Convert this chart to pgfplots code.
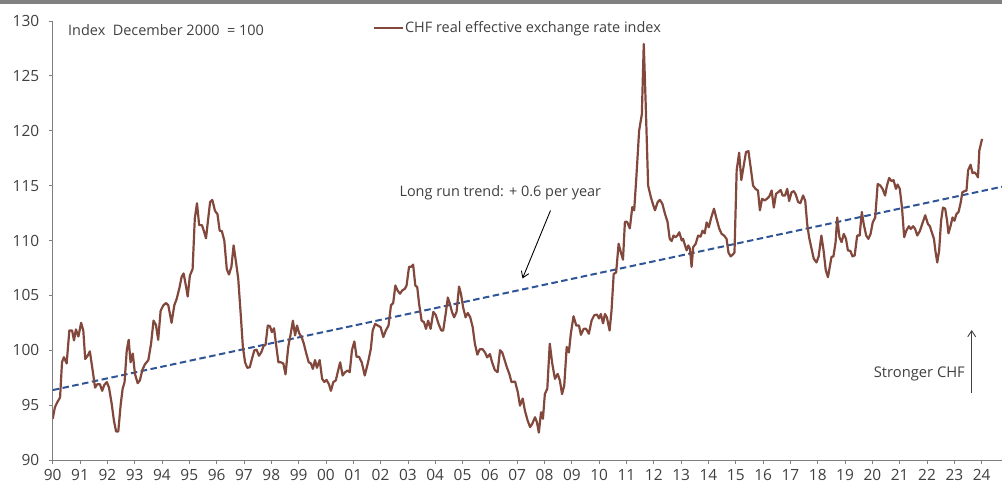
\documentclass[border=0pt]{standalone}
\usepackage{fontspec}
\setmainfont{Open Sans}
\usepackage{pgfplots}
\pgfplotsset{compat=1.18}
\usepackage{pgfplotstable}
\usetikzlibrary{arrows.meta}
\definecolor{chfbrown}{RGB}{130,72,60}
\definecolor{trendblue}{RGB}{47,85,151}
\definecolor{txtgray}{RGB}{64,64,64}
\definecolor{axgray}{RGB}{128,128,128}

\pgfplotstableread{
year value
1990.00 93.75
1990.08 94.8
1990.17 95.27
1990.27 95.7
1990.34 98.9
1990.41 99.37
1990.51 98.8
1990.61 101.8
1990.71 101.8
1990.78 100.9
1990.85 101.9
1990.94 101.25
1991.04 102.5
1991.12 101.8
1991.19 99.2
1991.28 99.5
1991.36 99.9
1991.46 98.2
1991.55 96.6
1991.63 96.9
1991.73 96.9
1991.81 96.3
1991.89 96.85
1991.98 97.1
1992.06 96.6
1992.16 95.1
1992.24 93.6
1992.32 92.6
1992.40 92.6
1992.49 95.1
1992.56 96.5
1992.63 97.1
1992.71 100.0
1992.78 100.95
1992.85 98.9
1992.93 99.7
1993.01 97.85
1993.11 97.0
1993.19 97.25
1993.28 98.2
1993.37 98.7
1993.50 99.1
1993.60 100.6
1993.69 102.7
1993.78 102.3
1993.86 100.95
1993.95 103.6
1994.05 104.1
1994.15 104.3
1994.23 104.1
1994.35 102.5
1994.45 104.1
1994.54 104.7
1994.63 105.6
1994.72 106.7
1994.79 107.0
1994.88 105.8
1994.94 104.9
1995.02 106.8
1995.12 107.4
1995.20 112.0
1995.28 113.4
1995.36 111.4
1995.46 111.4
1995.54 110.8
1995.61 110.2
1995.70 112.2
1995.76 113.5
1995.84 113.7
1995.94 112.7
1996.03 112.4
1996.11 110.9
1996.19 110.85
1996.28 110.0
1996.37 107.4
1996.45 106.9
1996.54 107.6
1996.62 109.55
1996.71 108.0
1996.79 106.5
1996.88 103.3
1996.96 100.3
1997.04 98.9
1997.12 98.4
1997.21 98.45
1997.29 99.2
1997.38 100.0
1997.46 100.05
1997.55 99.5
1997.63 99.8
1997.72 100.4
1997.79 100.5
1997.87 102.25
1997.95 102.2
1998.02 101.65
1998.10 102.0
1998.17 100.6
1998.26 98.9
1998.35 98.9
1998.44 98.8
1998.52 97.8
1998.62 100.3
1998.71 101.5
1998.79 102.7
1998.87 101.35
1998.94 102.25
1999.02 101.55
1999.11 101.2
1999.19 100.6
1999.28 99.7
1999.37 98.9
1999.45 98.8
1999.52 98.3
1999.60 99.1
1999.67 98.4
1999.77 99.1
1999.86 97.4
1999.94 97.1
2000.02 97.3
2000.11 96.9
2000.18 96.3
2000.27 97.1
2000.36 97.25
2000.43 98.0
2000.52 98.9
2000.61 97.7
2000.70 98.0
2000.79 98.15
2000.87 98.0
2000.95 100.0
2001.04 100.8
2001.12 99.4
2001.21 99.4
2001.31 98.9
2001.42 97.7
2001.54 98.9
2001.64 100.1
2001.71 101.8
2001.80 102.4
2001.90 102.25
2002.00 102.1
2002.10 101.2
2002.19 101.8
2002.29 102.25
2002.38 104.1
2002.46 104.3
2002.54 105.9
2002.62 105.45
2002.71 105.15
2002.79 105.45
2002.89 105.6
2002.95 105.9
2003.04 107.6
2003.12 107.6
2003.19 107.8
2003.27 105.9
2003.34 105.75
2003.41 104.2
2003.50 102.7
2003.59 102.55
2003.66 101.95
2003.74 102.7
2003.83 101.95
2003.93 103.5
2004.02 103.2
2004.12 102.4
2004.22 101.8
2004.29 101.8
2004.38 103.3
2004.46 104.8
2004.54 104.2
2004.61 103.5
2004.69 103.0
2004.78 103.5
2004.87 105.8
2004.94 105.15
2005.02 103.9
2005.11 103.0
2005.19 103.4
2005.28 103.0
2005.37 102.1
2005.45 100.6
2005.54 99.6
2005.63 100.1
2005.73 100.1
2005.82 99.8
2005.90 99.35
2006.00 99.65
2006.08 98.9
2006.18 98.2
2006.28 98.0
2006.37 100.0
2006.45 99.8
2006.54 99.1
2006.62 98.45
2006.71 97.85
2006.79 97.1
2006.92 97.15
2007.02 96.2
2007.10 94.95
2007.20 95.6
2007.28 94.5
2007.38 93.6
2007.47 93.0
2007.55 93.3
2007.65 93.9
2007.72 93.45
2007.79 92.5
2007.87 94.35
2007.94 93.75
2008.01 96.0
2008.10 96.5
2008.19 100.6
2008.28 98.8
2008.38 97.4
2008.48 97.85
2008.56 97.25
2008.64 96.0
2008.72 96.8
2008.81 100.3
2008.89 99.8
2008.96 101.5
2009.06 103.1
2009.16 102.25
2009.26 102.25
2009.33 101.4
2009.43 101.95
2009.52 101.95
2009.62 101.5
2009.72 102.7
2009.82 103.2
2009.92 103.25
2009.99 102.9
2010.06 103.3
2010.14 102.45
2010.21 103.3
2010.28 103.0
2010.38 101.8
2010.45 103.6
2010.53 106.95
2010.62 107.1
2010.71 109.7
2010.79 108.95
2010.87 108.25
2010.94 111.7
2011.02 111.7
2011.12 111.1
2011.21 113.05
2011.28 112.75
2011.36 115.8
2011.46 120.0
2011.56 121.5
2011.63 127.9
2011.70 122.5
2011.79 115.0
2011.89 113.95
2011.98 113.2
2012.04 112.75
2012.14 113.5
2012.22 113.7
2012.31 113.35
2012.41 112.4
2012.50 111.7
2012.58 110.15
2012.65 109.95
2012.72 110.45
2012.79 110.3
2012.86 110.45
2012.93 110.75
2013.02 110.0
2013.07 110.15
2013.14 109.55
2013.20 109.1
2013.26 109.55
2013.32 109.25
2013.38 107.6
2013.44 109.4
2013.53 109.7
2013.62 110.45
2013.71 110.35
2013.78 110.9
2013.86 110.65
2013.93 111.65
2014.01 111.2
2014.10 112.1
2014.20 112.9
2014.29 112.0
2014.39 111.1
2014.48 110.6
2014.57 110.45
2014.66 110.15
2014.73 108.9
2014.81 108.55
2014.88 108.7
2014.95 108.9
2015.03 116.4
2015.12 118.0
2015.20 115.5
2015.29 116.85
2015.37 118.05
2015.46 118.15
2015.54 116.7
2015.63 115.0
2015.72 114.7
2015.81 114.55
2015.88 112.75
2015.96 113.8
2016.05 113.65
2016.14 113.8
2016.22 114.0
2016.31 114.55
2016.39 113.0
2016.47 114.25
2016.55 114.4
2016.64 114.6
2016.71 114.1
2016.80 114.1
2016.88 114.7
2016.95 113.6
2017.04 114.4
2017.12 114.5
2017.19 114.2
2017.28 113.5
2017.36 113.4
2017.46 114.1
2017.54 113.6
2017.61 111.5
2017.68 110.3
2017.77 109.25
2017.85 108.35
2017.95 108.0
2018.03 108.55
2018.13 110.45
2018.21 109.1
2018.29 107.3
2018.37 106.65
2018.50 108.5
2018.57 108.55
2018.65 109.85
2018.71 112.1
2018.79 110.3
2018.87 109.85
2018.95 110.6
2019.03 110.15
2019.10 109.1
2019.19 109.05
2019.27 108.55
2019.35 108.65
2019.44 110.45
2019.53 110.45
2019.61 112.6
2019.68 111.5
2019.77 110.45
2019.85 110.15
2019.93 110.6
2020.01 111.65
2020.10 112.1
2020.19 115.15
2020.29 115.0
2020.37 114.7
2020.46 114.1
2020.53 115.0
2020.61 115.7
2020.70 115.4
2020.77 115.5
2020.86 114.7
2020.92 115.1
2021.00 114.7
2021.08 113.0
2021.16 110.3
2021.24 110.9
2021.33 111.3
2021.40 111.05
2021.49 111.3
2021.56 111.05
2021.64 110.45
2021.74 110.9
2021.84 111.65
2021.93 112.3
2022.03 111.5
2022.10 111.3
2022.17 110.75
2022.25 110.15
2022.30 109.1
2022.37 108.0
2022.44 109.1
2022.51 111.8
2022.58 113.0
2022.66 112.9
2022.73 111.8
2022.78 110.65
2022.86 111.35
2022.93 112.1
2023.00 111.8
2023.07 112.4
2023.15 112.6
2023.22 113.35
2023.29 114.4
2023.37 114.5
2023.44 114.55
2023.50 116.4
2023.59 116.9
2023.66 116.15
2023.74 116.2
2023.81 116.0
2023.86 115.75
2023.91 118.2
2024.01 119.25
}\chfdata

\pgfplotstableread{
year value
1990.00 96.37
2024.74 114.90
}\trenddata

\begin{document}
\begin{tikzpicture}
\begin{axis}[
  at={(52.7bp,26bp)}, anchor=south west,
  scale only axis, width=949.3bp, height=439bp,
  xmin=1990, xmax=2024.74, ymin=90, ymax=130,
  axis lines*=left,
  axis line style={axgray, line width=0.8bp},
  xtick={1990,...,2024},
  xticklabels={90,91,92,93,94,95,96,97,98,99,00,01,02,03,04,05,06,07,08,09,10,11,12,13,14,15,16,17,18,19,20,21,22,23,24},
  ytick={90,95,...,130},
  tick align=outside,
  major tick length=4bp,
  tick style={axgray, line width=0.8bp},
  ticklabel style={font=\fontsize{15.5}{17}\selectfont, text=txtgray},
  xticklabel style={inner sep=0.8bp, text depth=0pt, yshift=-4bp},
  yticklabel style={xshift=-6bp},
  /pgf/number format/assume math mode=true,
  legend style={draw=none, fill=none, inner sep=0pt, outer sep=0pt,
    at={(axis description cs:0.3374,0.9848)}, anchor=west,
    font=\fontsize{14.5}{16}\selectfont, text=txtgray,
    nodes={inner sep=1.5bp}},
  legend cell align=left,
  legend image code/.code={\draw[#1] (0bp,0bp) -- (28.4bp,0bp);},
]
\addplot[trendblue, line width=2bp, dash pattern=on 6.5bp off 3.5bp, forget plot] table[x=year,y=value] {\trenddata};
\addplot[chfbrown, line width=2.2bp, line join=round] table[x=year,y=value] {\chfdata};
\addlegendentry{CHF real effective exchange rate index}
\end{axis}
\fill[axgray] (0bp,482bp) rectangle (1002bp,486bp);
\node[anchor=base west, inner sep=0pt, text=txtgray, font=\fontsize{14.5}{16}\selectfont] at (68bp,450bp) {Index\ \ December 2000\ \ = 100};
\node[anchor=base west, inner sep=0pt, text=txtgray, font=\fontsize{14.5}{16}\selectfont] at (399.3bp,289.3bp) {Long run trend: + 0.6 per year};
\draw[black, line width=0.9bp, -{Straight Barb[length=6bp,width=8bp]}] (550.5bp,275.5bp) -- (522.5bp,207.5bp);
\node[anchor=base east, inner sep=0pt, text=txtgray, font=\fontsize{14.8}{16}\selectfont] at (965bp,108.7bp) {Stronger CHF};
\draw[txtgray, line width=0.9bp, -{Straight Barb[length=6bp,width=8bp]}] (971.7bp,92.7bp) -- (971.7bp,156bp);
\pgfresetboundingbox
\useasboundingbox (0,0) rectangle (1002bp,486bp);
\end{tikzpicture}
\end{document}
